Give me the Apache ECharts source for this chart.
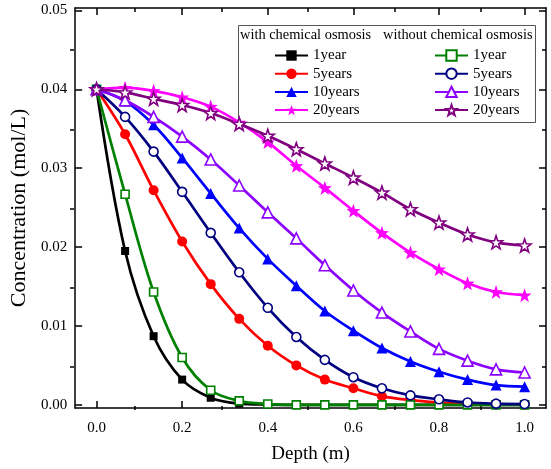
<!DOCTYPE html>
<html><head><meta charset="utf-8">
<script src="https://cdn.jsdelivr.net/npm/echarts@6/dist/echarts.min.js"></script>
<style>html,body{margin:0;padding:0;background:#fff}#c{width:551px;height:469px}</style>
</head><body><div id="c"></div>
<script>
const depth = [0, 0.0667, 0.1333, 0.2, 0.2667, 0.3333, 0.4, 0.4667, 0.5333, 0.6, 0.6667, 0.7333, 0.8, 0.8667, 0.9333, 1.0];
const with1 = [0.04, 0.0195, 0.0087, 0.0032, 0.0009, 0.00015, 0.00003, 0, 0, 0, 0, 0, 0, 0, 0, 0];
const with5 = [0.04, 0.0343, 0.0272, 0.0207, 0.0153, 0.0109, 0.0075, 0.0050, 0.0032, 0.0021, 0.0011, 0.0006, 0.0003, 0.0001, 0.00005, 0.00003];
const with10 = [0.04, 0.0385, 0.0355, 0.0313, 0.0268, 0.0224, 0.0185, 0.0151, 0.0119, 0.0094, 0.0072, 0.0055, 0.0042, 0.0032, 0.0025, 0.0023];
const with20 = [0.04, 0.0402, 0.0398, 0.0390, 0.0378, 0.0358, 0.0333, 0.0303, 0.0275, 0.0246, 0.0218, 0.0193, 0.0172, 0.0154, 0.0143, 0.0139];
const without1 = [0.04, 0.0267, 0.0143, 0.0060, 0.00185, 0.0005, 0.0001, 0, 0, 0, 0, 0, 0, 0, 0, 0];
const without5 = [0.04, 0.0365, 0.0321, 0.0270, 0.0218, 0.0168, 0.0123, 0.0086, 0.0057, 0.0035, 0.0021, 0.0012, 0.0007, 0.0003, 0.00015, 0.0001];
const without10 = [0.04, 0.0386, 0.0365, 0.0340, 0.0311, 0.0278, 0.0244, 0.0211, 0.0177, 0.0145, 0.0117, 0.0093, 0.0071, 0.0056, 0.0045, 0.0041];
const without20 = [0.04, 0.0396, 0.0388, 0.0380, 0.0370, 0.0356, 0.0341, 0.0324, 0.0306, 0.0288, 0.0269, 0.0248, 0.0231, 0.0216, 0.0206, 0.0202];
const xMajorTicks = [0, 0.2, 0.4, 0.6, 0.8, 1.0];
const xMinorTicks = [0.1, 0.3, 0.5, 0.7, 0.9];
const yMajorTicks = [0, 0.01, 0.02, 0.03, 0.04, 0.05];
const yMinorTicks = [0.005, 0.015, 0.025, 0.035, 0.045];
const timeLabels = ['1year', '5years', '10years', '20years'];
const groupHeaders = ['with chemical osmosis', 'without chemical osmosis'];

const FONT = 'Liberation Serif';
const STAR = 'path://M0,-10L2.35,-3.24L9.51,-3.09L3.8,1.24L5.88,8.09L0,4L-5.88,8.09L-3.8,1.24L-9.51,-3.09L-2.35,-3.24Z';
const X_MIN = -0.05, X_MAX = 1.05, Y_MIN = -0.0004, Y_MAX = 0.0503;

function xAxisDef(pos, ticks, len, labels, grid, showLine) {
  return {
    type: 'value', gridIndex: grid, position: pos, min: X_MIN, max: X_MAX,
    axisLine: { show: showLine, onZero: false, lineStyle: { color: '#000', width: 1.5 } },
    axisTick: { show: true, inside: true, length: len, customValues: ticks, lineStyle: { color: '#000', width: 1.5 } },
    axisLabel: labels ? { show: true, customValues: ticks, margin: 13, color: '#000', fontFamily: FONT, fontSize: 15, formatter: v => v.toFixed(1) } : { show: false },
    splitLine: { show: false }
  };
}
function yAxisDef(pos, ticks, len, labels, grid, showLine) {
  return {
    type: 'value', gridIndex: grid, position: pos, min: Y_MIN, max: Y_MAX,
    axisLine: { show: showLine, onZero: false, lineStyle: { color: '#000', width: 1.5 } },
    axisTick: { show: true, inside: true, length: len, customValues: ticks, lineStyle: { color: '#000', width: 1.5 } },
    axisLabel: labels ? { show: true, customValues: ticks, margin: 8, color: '#000', fontFamily: FONT, fontSize: 15, formatter: v => v.toFixed(2) } : { show: false },
    splitLine: { show: false }
  };
}

const xa = [
  xAxisDef('bottom', xMajorTicks, 7, true, 0, true),
  xAxisDef('top', xMajorTicks, 7, false, 0, true),
  xAxisDef('bottom', xMinorTicks, 4, false, 1, false),
  xAxisDef('top', xMinorTicks, 4, false, 1, false)
];
xa[0].name = 'Depth (m)';
xa[0].nameLocation = 'middle';
xa[0].nameGap = 37;
xa[0].nameTextStyle = { color: '#000', fontFamily: FONT, fontSize: 19 };
const ya = [
  yAxisDef('left', yMajorTicks, 7, true, 0, true),
  yAxisDef('right', yMajorTicks, 7, false, 0, true),
  yAxisDef('left', yMinorTicks, 4, false, 1, false),
  yAxisDef('right', yMinorTicks, 4, false, 1, false)
];
ya[0].name = 'Concentration (mol/L)';
ya[0].nameLocation = 'middle';
ya[0].nameGap = 45;
ya[0].nameTextStyle = { color: '#000', fontFamily: FONT, fontSize: 22 };

function mk(group, idx, values, color, symbol, size, open) {
  return {
    type: 'line', name: group + '|' + timeLabels[idx], xAxisIndex: 0, yAxisIndex: 0,
    data: depth.map((d, i) => [d, values[i]]),
    smooth: 0.35, symbol: symbol, symbolSize: size, showAllSymbol: true,
    lineStyle: { color: color, width: 2.7 },
    itemStyle: open ? { color: '#fff', borderColor: color, borderWidth: 1.6 } : { color: color, borderColor: color, borderWidth: 0 },
    emphasis: { disabled: true }, animation: false
  };
}

const series = [
  mk('w', 0, with1, '#000000', 'rect', 8, false),
  mk('w', 1, with5, '#ff0000', 'circle', 10, false),
  mk('w', 2, with10, '#0000ff', 'triangle', 11, false),
  mk('w', 3, with20, '#ff00ff', STAR, 14, false),
  mk('o', 0, without1, '#008000', 'rect', 8, true),
  mk('o', 1, without5, '#000080', 'circle', 9, true),
  mk('o', 2, without10, '#8b00ff', 'triangle', 11, true),
  mk('o', 3, without20, '#800080', STAR, 13, true)
];

const legendCommon = {
  orient: 'vertical', itemWidth: 33, itemHeight: 13, itemGap: 3.2, padding: 0, top: 48,
  textStyle: { color: '#000', fontFamily: FONT, fontSize: 15 },
  formatter: n => n.split('|')[1], selectedMode: false
};

const option = {
  backgroundColor: '#fff',
  animation: false,
  grid: [
    { left: 70, right: 5, top: 8, bottom: 59, containLabel: false },
    { left: 70, right: 5, top: 8, bottom: 59, containLabel: false }
  ],
  xAxis: xa,
  yAxis: ya,
  legend: [
    Object.assign({}, legendCommon, { left: 274, data: series.slice(0, 4).map(s => s.name) }),
    Object.assign({}, legendCommon, { left: 434, data: series.slice(4).map(s => s.name) })
  ],
  graphic: [
    { type: 'rect', left: 238, top: 25, shape: { width: 297, height: 97 }, style: { fill: '#fff', stroke: '#555', lineWidth: 1 }, z: 0, zlevel: 0 },
    { type: 'text', left: 240, top: 28, style: { text: groupHeaders[0], fill: '#000', font: '14.4px "Liberation Serif"' }, z: 1 },
    { type: 'text', left: 383, top: 28, style: { text: groupHeaders[1], fill: '#000', font: '14.4px "Liberation Serif"' }, z: 1 }
  ],
  series: series
};
const chart = echarts.init(document.getElementById('c'), null, { renderer: 'canvas' });
chart.setOption(option);
</script></body></html>
